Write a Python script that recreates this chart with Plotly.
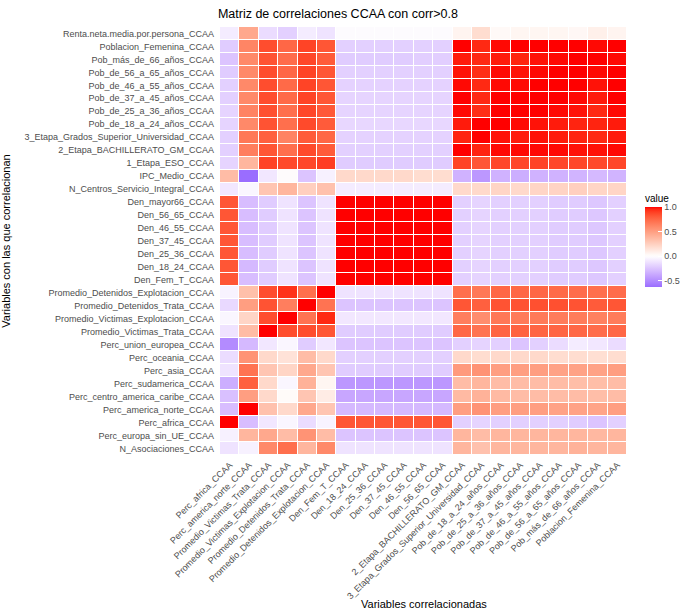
"""Matriz de correlaciones CCAA (heatmap estilo ggplot)"""

import plotly.graph_objects as go

# filas (de arriba a abajo)
filas = [
    "Renta.neta.media.por.persona_CCAA",
    "Poblacion_Femenina_CCAA",
    "Pob_más_de_66_años_CCAA",
    "Pob_de_56_a_65_años_CCAA",
    "Pob_de_46_a_55_años_CCAA",
    "Pob_de_37_a_45_años_CCAA",
    "Pob_de_25_a_36_años_CCAA",
    "Pob_de_18_a_24_años_CCAA",
    "3_Etapa_Grados_Superior_Universidad_CCAA",
    "2_Etapa_BACHILLERATO_GM_CCAA",
    "1_Etapa_ESO_CCAA",
    "IPC_Medio_CCAA",
    "N_Centros_Servicio_Integral_CCAA",
    "Den_mayor66_CCAA",
    "Den_56_65_CCAA",
    "Den_46_55_CCAA",
    "Den_37_45_CCAA",
    "Den_25_36_CCAA",
    "Den_18_24_CCAA",
    "Den_Fem_T_CCAA",
    "Promedio_Detenidos_Explotacion_CCAA",
    "Promedio_Detenidos_Trata_CCAA",
    "Promedio_Victimas_Explotacion_CCAA",
    "Promedio_Victimas_Trata_CCAA",
    "Perc_union_europea_CCAA",
    "Perc_oceania_CCAA",
    "Perc_asia_CCAA",
    "Perc_sudamerica_CCAA",
    "Perc_centro_america_caribe_CCAA",
    "Perc_america_norte_CCAA",
    "Perc_africa_CCAA",
    "Perc_europa_sin_UE_CCAA",
    "N_Asociaciones_CCAA",
]

# columnas (izquierda a derecha)
columnas = [
    "Perc_africa_CCAA",
    "Perc_america_norte_CCAA",
    "Promedio_Victimas_Trata_CCAA",
    "Promedio_Victimas_Explotacion_CCAA",
    "Promedio_Detenidos_Trata_CCAA",
    "Promedio_Detenidos_Explotacion_CCAA",
    "Den_Fem_T_CCAA",
    "Den_18_24_CCAA",
    "Den_25_36_CCAA",
    "Den_37_45_CCAA",
    "Den_46_55_CCAA",
    "Den_56_65_CCAA",
    "2_Etapa_BACHILLERATO_GM_CCAA",
    "3_Etapa_Grados_Superior_Universidad_CCAA",
    "Pob_de_18_a_24_años_CCAA",
    "Pob_de_25_a_36_años_CCAA",
    "Pob_de_37_a_45_años_CCAA",
    "Pob_de_46_a_55_años_CCAA",
    "Pob_de_56_a_65_años_CCAA",
    "Pob_más_de_66_años_CCAA",
    "Poblacion_Femenina_CCAA",
]

# correlaciones (una lista por fila)
corr = [
    [-0.08, 0.45, -0.15, -0.20, -0.08, -0.12, -0.01, -0.01, -0.01, -0.01, -0.01, -0.01, 0.06, 0.18, 0.03, 0.05, 0.05, 0.05, 0.04, 0.08, 0.06],
    [-0.22, 0.62, 0.85, 0.75, 0.88, 0.82, -0.20, -0.20, -0.20, -0.20, -0.20, -0.20, 1.00, 0.95, 0.99, 1.00, 1.00, 1.00, 1.00, 0.99, 1.00],
    [-0.25, 0.60, 0.83, 0.73, 0.87, 0.80, -0.22, -0.22, -0.22, -0.22, -0.21, -0.21, 0.97, 0.95, 0.97, 0.96, 0.98, 0.99, 1.00, 1.00, 0.99],
    [-0.22, 0.60, 0.85, 0.75, 0.88, 0.82, -0.20, -0.20, -0.20, -0.20, -0.20, -0.20, 0.98, 0.94, 0.99, 0.98, 0.99, 1.00, 1.00, 0.99, 1.00],
    [-0.20, 0.60, 0.85, 0.74, 0.88, 0.82, -0.19, -0.19, -0.19, -0.19, -0.19, -0.19, 0.99, 0.95, 0.99, 0.99, 1.00, 1.00, 1.00, 0.98, 1.00],
    [-0.20, 0.60, 0.85, 0.74, 0.88, 0.82, -0.18, -0.18, -0.18, -0.18, -0.18, -0.18, 1.00, 0.95, 1.00, 1.00, 1.00, 1.00, 0.99, 0.97, 1.00],
    [-0.18, 0.63, 0.84, 0.72, 0.87, 0.81, -0.18, -0.18, -0.18, -0.18, -0.18, -0.18, 0.99, 0.94, 1.00, 1.00, 1.00, 0.99, 0.98, 0.95, 0.99],
    [-0.18, 0.60, 0.83, 0.72, 0.86, 0.80, -0.17, -0.17, -0.17, -0.17, -0.17, -0.17, 0.97, 1.00, 1.00, 0.99, 0.98, 0.97, 0.96, 0.96, 0.97],
    [-0.20, 0.68, 0.78, 0.63, 0.80, 0.75, -0.19, -0.19, -0.19, -0.19, -0.19, -0.19, 0.96, 1.00, 0.98, 0.97, 0.98, 0.97, 0.96, 0.95, 0.97],
    [-0.20, 0.65, 0.82, 0.72, 0.86, 0.80, -0.20, -0.20, -0.20, -0.20, -0.20, -0.20, 1.00, 0.96, 0.99, 0.99, 0.99, 0.99, 0.98, 0.98, 0.99],
    [-0.18, 0.38, 0.88, 0.86, 0.87, 0.90, -0.22, -0.22, -0.22, -0.22, -0.22, -0.22, 0.88, 0.82, 0.87, 0.87, 0.88, 0.87, 0.87, 0.86, 0.87],
    [0.35, -0.63, -0.10, 0.00, -0.25, -0.06, 0.20, 0.20, 0.20, 0.20, 0.18, 0.18, -0.33, -0.45, -0.33, -0.35, -0.33, -0.33, -0.32, -0.30, -0.32],
    [-0.10, -0.04, 0.30, 0.38, 0.25, 0.32, -0.08, -0.08, -0.08, -0.08, -0.08, -0.08, 0.20, 0.20, 0.22, 0.20, 0.22, 0.23, 0.25, 0.22, 0.22],
    [0.82, -0.28, -0.22, -0.12, -0.25, -0.12, 1.00, 1.00, 1.00, 1.00, 1.00, 1.00, -0.20, -0.18, -0.20, -0.20, -0.20, -0.22, -0.22, -0.24, -0.20],
    [0.82, -0.28, -0.22, -0.12, -0.25, -0.12, 1.00, 1.00, 1.00, 1.00, 1.00, 1.00, -0.20, -0.18, -0.20, -0.20, -0.20, -0.22, -0.22, -0.24, -0.20],
    [0.82, -0.28, -0.22, -0.12, -0.25, -0.12, 1.00, 1.00, 1.00, 1.00, 1.00, 1.00, -0.20, -0.18, -0.20, -0.20, -0.20, -0.22, -0.22, -0.24, -0.20],
    [0.82, -0.28, -0.22, -0.12, -0.25, -0.12, 1.00, 1.00, 1.00, 1.00, 1.00, 1.00, -0.20, -0.18, -0.20, -0.20, -0.20, -0.22, -0.22, -0.24, -0.20],
    [0.82, -0.28, -0.22, -0.12, -0.25, -0.12, 1.00, 1.00, 1.00, 1.00, 1.00, 1.00, -0.20, -0.18, -0.20, -0.20, -0.20, -0.22, -0.22, -0.24, -0.20],
    [0.82, -0.30, -0.22, -0.12, -0.25, -0.12, 1.00, 1.00, 1.00, 1.00, 1.00, 1.00, -0.20, -0.18, -0.20, -0.20, -0.20, -0.22, -0.22, -0.24, -0.20],
    [0.82, -0.28, -0.22, -0.12, -0.25, -0.12, 1.00, 1.00, 1.00, 1.00, 1.00, 1.00, -0.20, -0.18, -0.20, -0.20, -0.20, -0.22, -0.22, -0.24, -0.20],
    [-0.05, 0.33, 0.85, 0.93, 0.72, 1.00, -0.12, -0.12, -0.12, -0.12, -0.12, -0.12, 0.72, 0.68, 0.75, 0.75, 0.75, 0.74, 0.73, 0.72, 0.73],
    [-0.16, 0.50, 0.83, 0.65, 1.00, 0.70, -0.25, -0.25, -0.25, -0.25, -0.25, -0.25, 0.82, 0.78, 0.83, 0.83, 0.84, 0.84, 0.83, 0.80, 0.82],
    [-0.04, 0.22, 0.85, 1.00, 0.70, 0.95, -0.10, -0.10, -0.10, -0.10, -0.10, -0.10, 0.65, 0.58, 0.68, 0.67, 0.67, 0.66, 0.66, 0.64, 0.66],
    [-0.12, 0.35, 1.00, 0.85, 0.85, 0.82, -0.22, -0.22, -0.22, -0.22, -0.22, -0.22, 0.75, 0.70, 0.76, 0.77, 0.76, 0.76, 0.75, 0.73, 0.75],
    [-0.50, -0.30, -0.10, -0.04, -0.22, -0.10, -0.25, -0.25, -0.25, -0.25, -0.25, -0.25, -0.20, -0.18, -0.20, -0.25, -0.20, -0.15, -0.08, -0.10, -0.15],
    [-0.15, 0.55, 0.20, 0.15, 0.35, 0.20, -0.20, -0.20, -0.20, -0.20, -0.20, -0.20, 0.20, 0.18, 0.20, 0.20, 0.20, 0.18, 0.18, 0.17, 0.18],
    [-0.12, 0.70, 0.30, 0.22, 0.45, 0.30, -0.22, -0.22, -0.22, -0.22, -0.22, -0.22, 0.52, 0.55, 0.50, 0.50, 0.50, 0.48, 0.48, 0.48, 0.50],
    [-0.35, 0.78, 0.20, -0.04, 0.40, 0.05, -0.45, -0.45, -0.45, -0.45, -0.45, -0.45, 0.35, 0.38, 0.35, 0.35, 0.35, 0.35, 0.34, 0.34, 0.35],
    [-0.27, 0.50, 0.20, 0.02, 0.30, 0.10, -0.38, -0.38, -0.38, -0.38, -0.38, -0.38, 0.36, 0.40, 0.36, 0.35, 0.35, 0.35, 0.35, 0.34, 0.35],
    [-0.28, 1.00, 0.32, 0.20, 0.45, 0.30, -0.30, -0.30, -0.30, -0.30, -0.30, -0.30, 0.50, 0.55, 0.50, 0.50, 0.50, 0.48, 0.48, 0.47, 0.50],
    [1.00, -0.28, -0.10, -0.04, -0.15, -0.05, 0.82, 0.82, 0.82, 0.82, 0.82, 0.82, -0.20, -0.18, -0.20, -0.20, -0.20, -0.20, -0.22, -0.25, -0.20],
    [-0.06, 0.38, 0.45, 0.35, 0.55, 0.35, -0.25, -0.25, -0.25, -0.25, -0.25, -0.25, 0.38, 0.35, 0.38, 0.38, 0.38, 0.38, 0.38, 0.37, 0.38],
    [-0.12, -0.06, 0.60, 0.72, 0.38, 0.60, -0.12, -0.12, -0.12, -0.12, -0.12, -0.12, 0.38, 0.32, 0.38, 0.38, 0.38, 0.38, 0.40, 0.38, 0.38],
]

ZMIN, ZMAX = -0.63, 1.0


# escala tipo scale_fill_gradient2(low="blue", mid="white", high="red"), interpolada en Lab
def _lab(rgb):
    def lin(c):
        c = c / 255
        return c / 12.92 if c <= 0.04045 else ((c + 0.055) / 1.055) ** 2.4
    r, g, b = (lin(c) for c in rgb)
    x = (0.4124 * r + 0.3576 * g + 0.1805 * b) / 0.95047
    y = 0.2126 * r + 0.7152 * g + 0.0722 * b
    z = (0.0193 * r + 0.1192 * g + 0.9505 * b) / 1.08883
    f = lambda t: t ** (1 / 3) if t > 0.008856 else 7.787 * t + 16 / 116
    fx, fy, fz = f(x), f(y), f(z)
    return 116 * fy - 16, 500 * (fx - fy), 200 * (fy - fz)


def _rgb(lab):
    L, a, b = lab
    fy = (L + 16) / 116
    fx, fz = fy + a / 500, fy - b / 200
    g = lambda t: t ** 3 if t ** 3 > 0.008856 else (t - 16 / 116) / 7.787
    x, y, z = 0.95047 * g(fx), g(fy), 1.08883 * g(fz)
    r = 3.2406 * x - 1.5372 * y - 0.4986 * z
    gg = -0.9689 * x + 1.8758 * y + 0.0415 * z
    bb = 0.0557 * x - 0.2040 * y + 1.0570 * z

    def enc(c):
        c = min(max(c, 0), 1)
        c = 12.92 * c if c <= 0.0031308 else 1.055 * c ** (1 / 2.4) - 0.055
        return round(c * 255)
    return "rgb(%d,%d,%d)" % (enc(r), enc(gg), enc(bb))


LOW, MID, HIGH = _lab((0, 0, 255)), _lab((255, 255, 255)), _lab((255, 0, 0))
escala = []
n = 40
for i in range(n + 1):
    v = ZMIN + (ZMAX - ZMIN) * i / n
    end, t = (HIGH, v) if v >= 0 else (LOW, -v)
    lab = tuple(m + (e - m) * t for m, e in zip(MID, end))
    escala.append([i / n, _rgb(lab)])

fig = go.Figure(
    go.Heatmap(
        z=corr, x=columnas, y=filas,
        zmin=ZMIN, zmax=ZMAX, colorscale=escala,
        xgap=1, ygap=1,
        colorbar=dict(
            title=dict(text="value", side="top", font=dict(size=10, color="black")),
            tickvals=[-0.5, 0, 0.5, 1], ticktext=["-0.5", "0.0", "0.5", "1.0"],
            tickfont=dict(size=9, color="#4D4D4D"),
            ticks="inside", tickcolor="white", ticklen=4,
            thickness=17, lenmode="pixels", len=96,
            x=1.044, xanchor="left", y=0.5045, yanchor="middle",
            xpad=0, ypad=0, outlinewidth=0,
        ),
    )
)

fig.update_layout(
    width=680, height=611,
    title=dict(text="Matriz de correlaciones CCAA con corr>0.8", x=0.497, xref="container",
               y=0.978, yanchor="middle", font=dict(size=12.5, color="black")),
    font=dict(family="Liberation Sans, Arial, sans-serif"),
    plot_bgcolor="white", paper_bgcolor="white",
    margin=dict(l=220, r=53, t=27, b=156, autoexpand=False),
)
fig.update_xaxes(
    tickangle=-45, tickfont=dict(size=9, color="#4D4D4D"), showgrid=False,
    ticks="", automargin=False, ticklabelstandoff=2,
)
fig.update_yaxes(
    autorange="reversed", tickfont=dict(size=9, color="#4D4D4D"), showgrid=False,
    ticks="", automargin=False, ticklabelstandoff=5,
    title=dict(text="Variables con las que correlacionan", font=dict(size=11, color="black")),
)

# titulo del eje x como anotacion, para fijar su altura
fig.add_annotation(
    text="Variables correlacionadas", xref="paper", yref="paper",
    x=0.5, y=-0.348, yanchor="middle", showarrow=False,
    font=dict(size=11, color="black"),
)

# sin margen del body para que la figura ocupe la ventana completa
fig.write_html("out.html", config={"displayModeBar": False},
               post_script="document.body.style.margin='0';")
